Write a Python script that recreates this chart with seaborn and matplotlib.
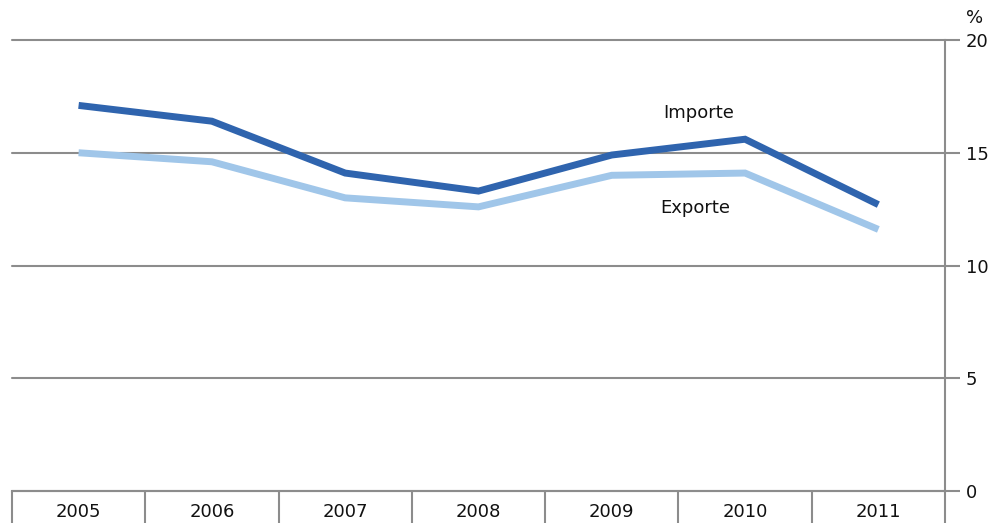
import seaborn as sns
import matplotlib.pyplot as plt
import pandas as pd
from matplotlib.ticker import FixedLocator

# Anteil am Außenhandel, in %
years = ['2005', '2006', '2007', '2008', '2009', '2010', '2011']
importe = [17.1, 16.4, 14.1, 13.3, 14.9, 15.6, 12.7]
exporte = [15.0, 14.6, 13.0, 12.6, 14.0, 14.1, 11.6]
yticks = [0, 5, 10, 15, 20]

df = pd.DataFrame({
    'Jahr': list(range(len(years))) * 2,
    'Wert': importe + exporte,
    'Serie': ['Importe'] * len(years) + ['Exporte'] * len(years),
})

sns.set_style('white')
plt.rcParams['font.family'] = ['DejaVu Sans']
grey = '#8c8c8c'
txt = '#111111'

fig = plt.figure(figsize=(9.94, 5.23), dpi=100)
ax = fig.add_axes([0.012, 0.0612, 0.9387, 0.8623])

sns.lineplot(data=df, x='Jahr', y='Wert', hue='Serie',
             palette={'Importe': '#2f64ae', 'Exporte': '#a0c6e9'},
             hue_order=['Exporte', 'Importe'],
             linewidth=5, legend=False, ax=ax,
             solid_capstyle='butt', solid_joinstyle='miter')

ax.set_xlim(-0.5, len(years) - 0.5)
ax.set_ylim(0, 20)
ax.set_xlabel('')
ax.set_ylabel('')

# y axis on the right
ax.yaxis.tick_right()
ax.set_yticks(yticks)
ax.tick_params(axis='y', length=11, width=1.5, color=grey, pad=4, labelsize=13,
               labelcolor=txt)
ax.grid(axis='y', color=grey, linewidth=1.5)
for gl in ax.get_ygridlines():
    gl.set_clip_on(False)
ax.set_axisbelow(True)

# x axis: labels centered, separators between categories
ax.set_xticks(range(len(years)))
ax.set_xticklabels(years)
ax.xaxis.set_minor_locator(FixedLocator([i - 0.5 for i in range(len(years) + 1)]))
ax.tick_params(axis='x', which='major', length=0, pad=9, labelsize=13,
               labelcolor=txt)
ax.tick_params(axis='x', which='minor', length=24, width=1.5, color=grey,
               bottom=True)

for side in ['left', 'top']:
    ax.spines[side].set_visible(False)
for side in ['right', 'bottom']:
    ax.spines[side].set_color(grey)
    ax.spines[side].set_linewidth(1.5)

ax.text(4.65, 16.75, 'Importe', ha='center', va='center', fontsize=13, color=txt)
ax.text(4.63, 12.55, 'Exporte', ha='center', va='center', fontsize=13, color=txt)
fig.text(975 / 994, 1 - 18 / 523, '%', ha='center', va='center', fontsize=13,
         color=txt)

fig.savefig('out.png', dpi=100)
